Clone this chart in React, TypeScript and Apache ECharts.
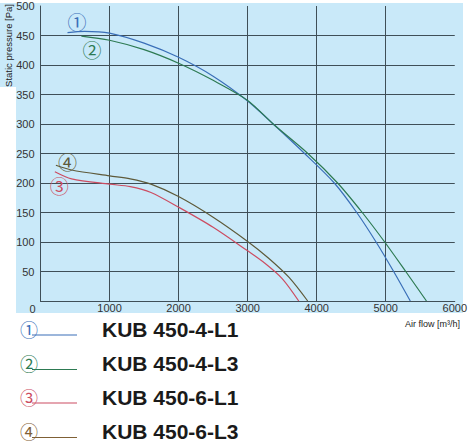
import React, { useEffect, useRef } from "react";
import * as echarts from "echarts";

const seriesNames = ["KUB 450-4-L1", "KUB 450-4-L3", "KUB 450-6-L1", "KUB 450-6-L3"];
const circled = ["①", "②", "③", "④"];
const lineColors = ["#3a6fb8", "#2d7a52", "#cc4d62", "#5e5a3a"];
const legendColors = ["#3a6fb8", "#2d7a52", "#cc4d62", "#7f6035"];

const curve1: [number, number][] = [
  [391, 455], [640, 457], [1000, 454], [1500, 437], [2000, 413], [2500, 381],
  [3000, 339], [3370, 300], [3825, 250], [4255, 200], [4580, 150], [4860, 100], [5115, 50], [5356, 0],
];
const curve2: [number, number][] = [
  [592, 449], [1000, 442], [1500, 426], [2000, 403], [2500, 374], [3000, 340],
  [3370, 300], [3872, 250], [4303, 200], [4660, 150], [4985, 100], [5290, 50], [5590, 0],
];
const curve3: [number, number][] = [
  [208, 219], [450, 207], [1000, 198], [1300, 194], [1600, 184], [2000, 159], [2500, 125],
  [3000, 85], [3250, 64], [3500, 38], [3740, 0],
];
const curve4: [number, number][] = [
  [223, 230], [450, 222], [1000, 212], [1300, 207], [1600, 198], [2000, 177], [2500, 142],
  [3000, 101], [3300, 73], [3600, 40], [3870, 0],
];
const curves = [curve1, curve2, curve3, curve4];
const labelPoints: [number, number][] = [[530, 474], [745, 426], [270, 195], [390, 237]];

const xTicks = { min: 0, max: 6000, interval: 1000 };
const yTicks = { min: 0, max: 500, interval: 50 };

export default function App() {
  const ref = useRef<HTMLDivElement>(null);
  useEffect(() => {
    if (!ref.current) return;
    const chart = echarts.init(ref.current, undefined, { renderer: "svg" });
    const font = "Liberation Sans, Arial, sans-serif";
    const cjk = "Noto Sans CJK JP";
    const gridColor = "#3f4f58";
    const legendRows = [335, 369.5, 403, 437.5];
    const graphics: any[] = [
      { type: "rect", z: -10, shape: { x: 16, y: 3, width: 447, height: 310 }, style: { fill: "#c9e9f9" } },
      { type: "rect", z: -10, shape: { x: 0, y: 3, width: 16, height: 84 }, style: { fill: "#c9e9f9" } },
      {
        type: "text", x: 8, y: 4, rotation: Math.PI / 2,
        style: { text: "Static pressure [Pa]", fontSize: 9.5, fontFamily: font, fill: "#222", align: "right", verticalAlign: "middle" },
      },
      {
        type: "text", x: 32.5, y: 308.5,
        style: { text: "0", fontSize: 11, fontFamily: font, fill: "#333", align: "center", verticalAlign: "middle" },
      },
      {
        type: "text", x: 460, y: 323.5,
        style: { text: "Air flow [m³/h]", fontSize: 9, fontFamily: font, fill: "#222", align: "right", verticalAlign: "middle" },
      },
    ];
    seriesNames.forEach((name, i) => {
      const ly = legendRows[i];
      graphics.push({
        type: "line", shape: { x1: 32, y1: ly, x2: 77, y2: ly },
        style: { stroke: legendColors[i], lineWidth: 1.2 },
      });
      graphics.push({
        type: "text", x: 29, y: ly - 6.5,
        style: { text: circled[i], fontSize: 18, fontFamily: cjk, fill: legendColors[i], align: "center", verticalAlign: "middle", lineHeight: 16 },
      });
      graphics.push({
        type: "text", x: 102, y: ly - 6,
        style: { text: name, fontSize: 21, lineHeight: 19, fontWeight: "bold", fontFamily: font, fill: "#1a1a1a", align: "left", verticalAlign: "middle" },
      });
    });

    chart.setOption({
      animation: false,
      backgroundColor: "#ffffff",
      grid: { left: 40.5, right: 12, top: 6, bottom: 142, containLabel: false },
      xAxis: {
        type: "value", ...xTicks,
        axisLine: { show: true, lineStyle: { color: gridColor, width: 1 } },
        axisTick: { show: false },
        axisLabel: { showMinLabel: false, fontSize: 11, fontFamily: font, color: "#333", margin: 1, lineHeight: 11, formatter: (v: number) => String(v) },
        splitLine: { show: true, showMaxLine: false, lineStyle: { color: gridColor, width: 1 } },
      },
      yAxis: {
        type: "value", ...yTicks,
        axisLine: { show: true, lineStyle: { color: gridColor, width: 1 } },
        axisTick: { show: false },
        axisLabel: { showMinLabel: false, fontSize: 11, fontFamily: font, color: "#333", margin: 6, formatter: (v: number) => String(v) },
        splitLine: { show: true, showMaxLine: false, lineStyle: { color: gridColor, width: 1 } },
      },
      series: curves.map((data, i) => ({
        name: seriesNames[i],
        type: "line",
        data,
        smooth: 0.3,
        showSymbol: false,
        symbol: "none",
        lineStyle: { color: lineColors[i], width: 1.2 },
        markPoint: {
          symbol: "circle",
          symbolSize: 1,
          itemStyle: { color: "rgba(0,0,0,0)" },
          label: {
            show: true, position: "inside", formatter: circled[i],
            fontSize: 19, fontFamily: cjk, color: lineColors[i],
          },
          data: [{ coord: labelPoints[i] }],
        },
      })),
      graphic: { elements: graphics },
    });
    return () => chart.dispose();
  }, []);
  return <div ref={ref} style={{ width: 470, height: 443, position: "absolute", left: 0, top: 0 }} />;
}
